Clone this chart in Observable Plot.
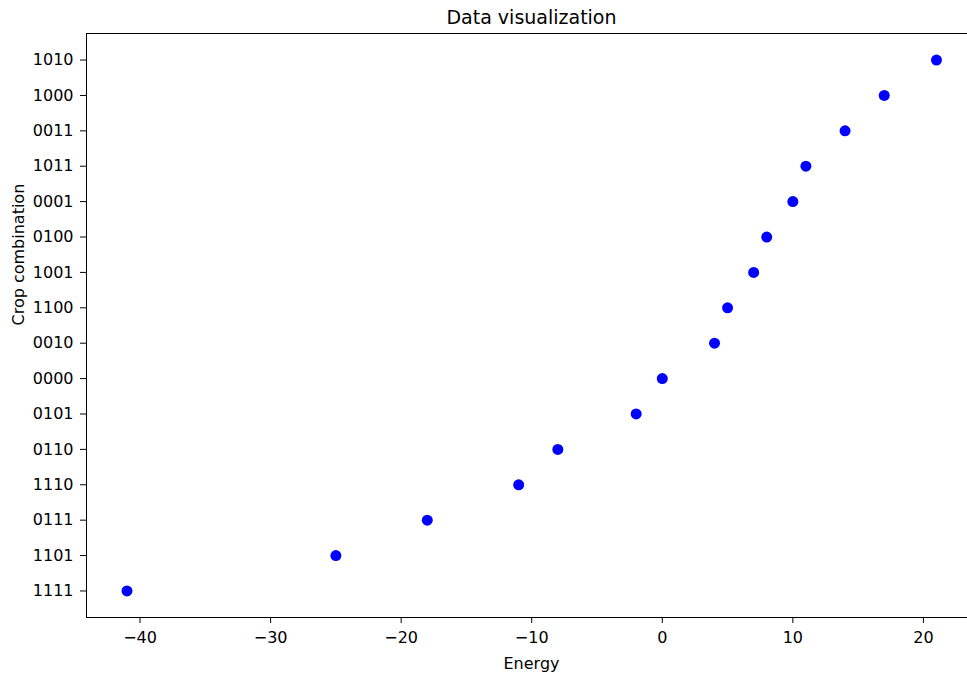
<!DOCTYPE html>
<html>
<head>
<meta charset="utf-8">
<script src="https://cdn.jsdelivr.net/npm/d3@7"></script>
<script src="https://cdn.jsdelivr.net/npm/@observablehq/plot@0.6"></script>
<style>
  html, body { margin: 0; padding: 0; background: #fff; }
  #chart svg { display: block; }
</style>
</head>
<body>
<div id="chart"></div>
<script>
// Categories, bottom to top
const crops = ["1111", "1101", "0111", "1110", "0110", "0101", "0000", "0010",
               "1100", "1001", "0100", "0001", "1011", "0011", "1000", "1010"];
// Energy values per category
const energy = [-41, -25, -18, -11, -8, -2, 0, 4, 5, 7, 8, 10, 11, 14, 17, 21];
const xTicks = [-40, -30, -20, -10, 0, 10, 20];
const title = "Data visualization";
const xLabel = "Energy";
const yLabel = "Crop combination";

const data = crops.map((c, i) => ({crop: c, energy: energy[i]}));
const font = "DejaVu Sans, sans-serif";

const chart = Plot.plot({
  width: 967,
  height: 676,
  marginLeft: 86,
  marginRight: 1,
  marginTop: 33,
  marginBottom: 59,
  style: {fontFamily: font, fontSize: "16px", color: "#000", background: "#fff"},
  x: {domain: [-44.1, 23.3], label: null},
  y: {type: "point", domain: crops, reverse: true, padding: 0.75, round: false, label: null},
  marks: [
    Plot.frame({anchor: "top", stroke: "#000"}),
    Plot.frame({anchor: "left", stroke: "#000"}),
    Plot.frame({anchor: "bottom", stroke: "#000"}),
    Plot.axisX({ticks: xTicks, tickSize: 6, tickPadding: 8, fontSize: 16, label: null}),
    Plot.axisY({tickSize: 6, tickPadding: 7, fontSize: 16, label: null}),
    Plot.dot(data, {x: "energy", y: "crop", r: 5.5, fill: "#0000ff", stroke: null}),
    Plot.text([title], {frameAnchor: "top", dx: 5, dy: -16, fontSize: 19, lineAnchor: "middle", fill: "#000"}),
    Plot.text([xLabel], {frameAnchor: "bottom", dx: 5, dy: 46, fontSize: 16, lineAnchor: "middle", fill: "#000"}),
    Plot.text([yLabel], {frameAnchor: "left", dx: -68, rotate: -90, fontSize: 16, lineAnchor: "middle", fill: "#000"})
  ]
});
document.getElementById("chart").appendChild(chart);
</script>
</body>
</html>
